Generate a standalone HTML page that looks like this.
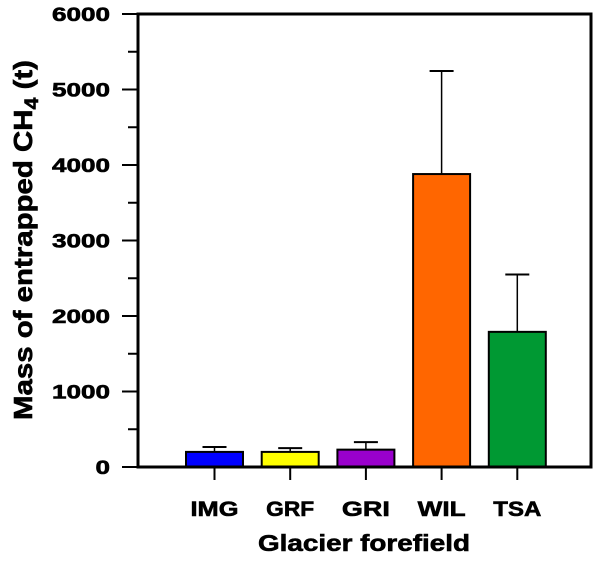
<!DOCTYPE html>
<html><head><meta charset="utf-8"><style>
body{margin:0;background:#fff;}
svg text{font-family:"Liberation Sans",Arial,sans-serif;font-weight:bold;fill:#000;stroke:#000;stroke-width:0.6;}
</style></head><body>
<svg id="chart" width="600" height="558" xmlns="http://www.w3.org/2000/svg">
<g id="bars"></g>
<g id="axes"></g>
</svg>
<script>
const categories=["IMG","GRF","GRI","WIL","TSA"];
const values=[200,200,230,3880,1790];
const errors=[65,50,100,1365,760];
const colors=["#0000ff","#ffff00","#9900cc","#ff6600","#009933"];
const yTicks=[0,1000,2000,3000,4000,5000,6000];
const NS="http://www.w3.org/2000/svg";
const L=138,R=591,T=14,B=467,yMax=6000;
const x0=214.5,step=75.7,bw=57;
function y(v){return B-(v/yMax)*(B-T);}
function xc(i){return x0+i*step;}
function mk(tag,attrs,parent,text){const e=document.createElementNS(NS,tag);for(const k in attrs)e.setAttribute(k,attrs[k]);if(text!==undefined)e.textContent=text;parent.appendChild(e);return e;}
const gb=document.getElementById('bars'),ga=document.getElementById('axes');
categories.forEach((c,i)=>{
  const cx=xc(i);
  const ln=mk('line',{x1:cx,x2:cx,y1:y(values[i]),y2:y(values[i]+errors[i]),stroke:'#000','stroke-width':1.5},gb);
  
  
  const cap=mk('line',{x1:cx-12,x2:cx+12,y1:y(values[i]+errors[i]),y2:y(values[i]+errors[i]),stroke:'#000','stroke-width':2},gb);
  
  
  const r=mk('rect',{x:cx-bw/2,y:y(values[i]),width:bw,height:B-y(values[i]),fill:colors[i],stroke:'#000','stroke-width':2},gb);
  
  
  mk('line',{x1:cx,x2:cx,y1:B,y2:B+13,stroke:'#000','stroke-width':2},ga);
  const t=mk('text',{x:cx,y:516,'text-anchor':'middle','font-size':21,textLength:c.length*16,lengthAdjust:'spacingAndGlyphs'},ga,c);
  
  
});
const frame=mk('rect',{x:L,y:T,width:R-L,height:B-T,fill:'none',stroke:'#000','stroke-width':3},ga);


yTicks.forEach((v,k)=>{
  mk('line',{x1:L-16,x2:L,y1:y(v),y2:y(v),stroke:'#000','stroke-width':2},ga);
  if(k<yTicks.length-1){const m=(v+yTicks[k+1])/2;mk('line',{x1:L-10,x2:L,y1:y(m),y2:y(m),stroke:'#000','stroke-width':2},ga);}
  const s=String(v);
  const t=mk('text',{x:L-28,y:y(v)+7,'text-anchor':'end','font-size':19,textLength:s.length*14.5,lengthAdjust:'spacingAndGlyphs'},ga,s);
  
  
});
const xt=mk('text',{x:364,y:551,'text-anchor':'middle','font-size':23,textLength:212,lengthAdjust:'spacingAndGlyphs'},ga,'Glacier forefield');


const yt=mk('text',{transform:'translate(32,240) rotate(-90)','text-anchor':'middle','font-size':26},ga);


yt.innerHTML='Mass of entrapped CH<tspan font-size="19" dy="6">4</tspan><tspan dy="-6"> (t)</tspan>';
const bb=yt.getBBox();
yt.setAttribute('transform','translate(32,240) rotate(-90) scale('+(360/bb.width)+',1)');
</script>
</body></html>
